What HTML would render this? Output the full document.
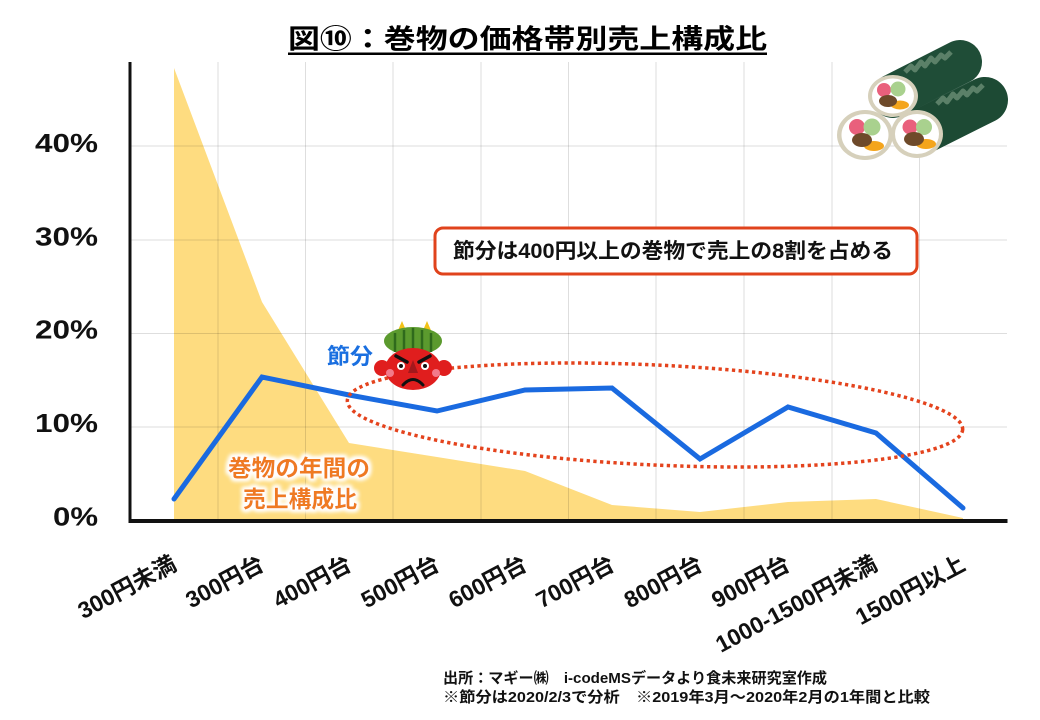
<!DOCTYPE html>
<html><head><meta charset="utf-8"><style>
html,body{margin:0;padding:0;background:#fff;}
svg{display:block;}
text{font-family:"Liberation Sans","Noto Sans CJK JP",sans-serif;font-weight:bold;}
</style></head><body>
<svg width="1040" height="720" viewBox="0 0 1040 720" xmlns="http://www.w3.org/2000/svg">
<defs>
<filter id="glow" x="-20%" y="-60%" width="140%" height="220%">
<feMorphology operator="dilate" radius="2" in="SourceAlpha" result="d"/>
<feGaussianBlur in="d" stdDeviation="2.2" result="b"/>
<feFlood flood-color="#ffffff"/>
<feComposite in2="b" operator="in" result="w"/>
<feMerge><feMergeNode in="w"/><feMergeNode in="w"/><feMergeNode in="SourceGraphic"/></feMerge>
</filter>
</defs>

<!-- Title -->
<text x="288" y="48.5" font-size="27" fill="#000" textLength="479" lengthAdjust="spacingAndGlyphs">図⑩：巻物の価格帯別売上構成比</text>
<rect x="288" y="52.5" width="479" height="2.5" fill="#000"/>

<!-- Yellow area -->
<polygon points="174,521 174,68 262,302 349,443 437,457 525,471 612,505 700,512 788,502 876,499 963,518 963,521" fill="#fedc80"/>

<!-- Gridlines -->
<g stroke="#000" stroke-opacity="0.13" stroke-width="1">
<line x1="131" y1="146" x2="1007" y2="146"/>
<line x1="131" y1="240" x2="1007" y2="240"/>
<line x1="131" y1="333.5" x2="1007" y2="333.5"/>
<line x1="131" y1="427" x2="1007" y2="427"/>
<line x1="218" y1="62" x2="218" y2="519"/>
<line x1="305.5" y1="62" x2="305.5" y2="519"/>
<line x1="393" y1="62" x2="393" y2="519"/>
<line x1="481" y1="62" x2="481" y2="519"/>
<line x1="568.5" y1="62" x2="568.5" y2="519"/>
<line x1="656" y1="62" x2="656" y2="519"/>
<line x1="744" y1="62" x2="744" y2="519"/>
<line x1="832" y1="62" x2="832" y2="519"/>
<line x1="919.5" y1="62" x2="919.5" y2="519"/>
</g>

<!-- Axes -->
<rect x="128.5" y="62" width="3" height="461" fill="#111"/>
<rect x="128.5" y="519" width="879" height="4" fill="#111"/>

<!-- Y labels -->
<g font-size="26" fill="#111">
<text x="35" y="152" textLength="63" lengthAdjust="spacingAndGlyphs">40%</text>
<text x="35" y="245.5" textLength="63" lengthAdjust="spacingAndGlyphs">30%</text>
<text x="35" y="338.5" textLength="63" lengthAdjust="spacingAndGlyphs">20%</text>
<text x="35" y="432" textLength="63" lengthAdjust="spacingAndGlyphs">10%</text>
<text x="53" y="525.5" textLength="45" lengthAdjust="spacingAndGlyphs">0%</text>
</g>

<!-- Blue line -->
<polyline points="174,499 262,377 349,395 437,411 525,390 612,388 700,459 788,407 876,433 963,508" fill="none" stroke="#1a6ae0" stroke-width="5" stroke-linejoin="miter" stroke-linecap="round"/>

<!-- Dotted ellipse -->
<ellipse cx="655" cy="415" rx="308" ry="50" transform="rotate(2.7 655 415)" fill="none" stroke="#e4431d" stroke-width="3.5" stroke-dasharray="3.3 3.4"/>

<!-- Callout -->
<rect x="435" y="228" width="482" height="46" rx="8" ry="8" fill="#fff" stroke="#e0431c" stroke-width="3"/>
<text x="453" y="258" font-size="21" fill="#111" textLength="440" lengthAdjust="spacingAndGlyphs">節分は400円以上の巻物で売上の8割を占める</text>

<!-- 節分 label -->
<text x="327" y="364" font-size="22" fill="#1a6fe0" textLength="46" lengthAdjust="spacingAndGlyphs">節分</text>

<!-- Orange label -->
<g filter="url(#glow)" font-size="23" fill="#ef7a22">
<text x="228" y="476" textLength="142" lengthAdjust="spacingAndGlyphs">巻物の年間の</text>
<text x="243" y="507" textLength="114" lengthAdjust="spacingAndGlyphs">売上構成比</text>
</g>

<!-- Oni -->
<g>
<polygon points="402,321 396,335 408,335" fill="#f2c318"/>
<polygon points="427,321 421,335 433,335" fill="#f2c318"/>
<ellipse cx="413" cy="341" rx="29" ry="14" fill="#5b9a2e"/>
<g stroke="#2f6a1c" stroke-width="2.5">
<line x1="395" y1="333" x2="395" y2="352"/>
<line x1="404" y1="330" x2="404" y2="352"/>
<line x1="413" y1="328" x2="413" y2="352"/>
<line x1="422" y1="330" x2="422" y2="352"/>
<line x1="431" y1="333" x2="431" y2="352"/>
</g>
<circle cx="382" cy="368" r="8" fill="#e01e1e"/>
<circle cx="444" cy="368" r="8" fill="#e01e1e"/>
<ellipse cx="413" cy="369" rx="28" ry="21" fill="#e01e1e"/>
<circle cx="390" cy="373" r="4" fill="#f27a8a"/>
<circle cx="436" cy="373" r="4" fill="#f27a8a"/>
<line x1="396" y1="356" x2="407" y2="362" stroke="#111" stroke-width="3.5" stroke-linecap="round"/>
<line x1="430" y1="356" x2="419" y2="362" stroke="#111" stroke-width="3.5" stroke-linecap="round"/>
<circle cx="401" cy="366" r="4" fill="#fff"/>
<circle cx="425" cy="366" r="4" fill="#fff"/>
<circle cx="401" cy="366" r="2" fill="#111"/>
<circle cx="425" cy="366" r="2" fill="#111"/>
<polygon points="413,360 408,373 418,373" fill="#a3181c"/>
<path d="M403,385 Q413,374 423,385" fill="none" stroke="#111" stroke-width="3" stroke-linecap="round"/>
</g>

<!-- Sushi -->
<g>
<line x1="893" y1="96" x2="960" y2="62" stroke="#1f4d37" stroke-width="44" stroke-linecap="round"/>
<path d="M905,72 l6,-6 l4,4 l6,-8 l4,4 l6,-8 l4,4 l6,-7 l4,3 l6,-6" fill="none" stroke="#5b8068" stroke-width="5" stroke-linejoin="round"/>
<line x1="917" y1="134" x2="985" y2="100" stroke="#1d4a34" stroke-width="46" stroke-linecap="round"/>
<path d="M937,104 l6,-6 l4,4 l6,-8 l4,4 l6,-7 l4,4 l6,-7 l4,3 l6,-6" fill="none" stroke="#5b8068" stroke-width="5" stroke-linejoin="round"/>
<!-- section A -->
<ellipse cx="893" cy="96" rx="25" ry="21" fill="#d6d0bb"/>
<ellipse cx="893" cy="96" rx="21" ry="17.5" fill="#fff"/>
<circle cx="884" cy="90" r="7" fill="#e9607c"/>
<circle cx="898" cy="89" r="7.5" fill="#a9d18e"/>
<ellipse cx="900" cy="105" rx="9" ry="4.5" fill="#f4a51c"/>
<ellipse cx="888" cy="101" rx="9" ry="6" fill="#6e4a2a"/>
<!-- section C -->
<ellipse cx="865" cy="135" rx="28" ry="25" fill="#d6d0bb"/>
<ellipse cx="865" cy="135" rx="23.5" ry="21" fill="#fff"/>
<circle cx="857" cy="127" r="8" fill="#e9607c"/>
<circle cx="872" cy="127" r="8.5" fill="#a9d18e"/>
<ellipse cx="874" cy="146" rx="10" ry="5" fill="#f4a51c"/>
<ellipse cx="862" cy="140" rx="10" ry="7" fill="#6e4a2a"/>
<!-- section B -->
<ellipse cx="917" cy="134" rx="26" ry="24" fill="#d6d0bb"/>
<ellipse cx="917" cy="134" rx="22" ry="20" fill="#fff"/>
<circle cx="910" cy="127" r="7.5" fill="#e9607c"/>
<circle cx="924" cy="127" r="8" fill="#a9d18e"/>
<ellipse cx="926" cy="144" rx="10" ry="5" fill="#f4a51c"/>
<ellipse cx="914" cy="139" rx="10" ry="7" fill="#6e4a2a"/>
</g>

<!-- X labels -->
<g font-size="23" fill="#111" text-anchor="end">
<text transform="translate(178,569) rotate(-28)">300円未満</text>
<text transform="translate(265.5,569) rotate(-28)">300円台</text>
<text transform="translate(353,569) rotate(-28)">400円台</text>
<text transform="translate(441,569) rotate(-28)">500円台</text>
<text transform="translate(528.5,569) rotate(-28)">600円台</text>
<text transform="translate(616,569) rotate(-28)">700円台</text>
<text transform="translate(704,569) rotate(-28)">800円台</text>
<text transform="translate(791.5,569) rotate(-28)">900円台</text>
<text transform="translate(879,569) rotate(-28)">1000-1500円未満</text>
<text transform="translate(967,569) rotate(-28)">1500円以上</text>
</g>

<!-- Footer -->
<g font-size="15" fill="#111">
<text x="443" y="683" textLength="384" lengthAdjust="spacingAndGlyphs">出所：マギー㈱　i-codeMSデータより食未来研究室作成</text>
<text x="443" y="702" textLength="487" lengthAdjust="spacingAndGlyphs">※節分は2020/2/3で分析　※2019年3月～2020年2月の1年間と比較</text>
</g>
</svg>
</body></html>
